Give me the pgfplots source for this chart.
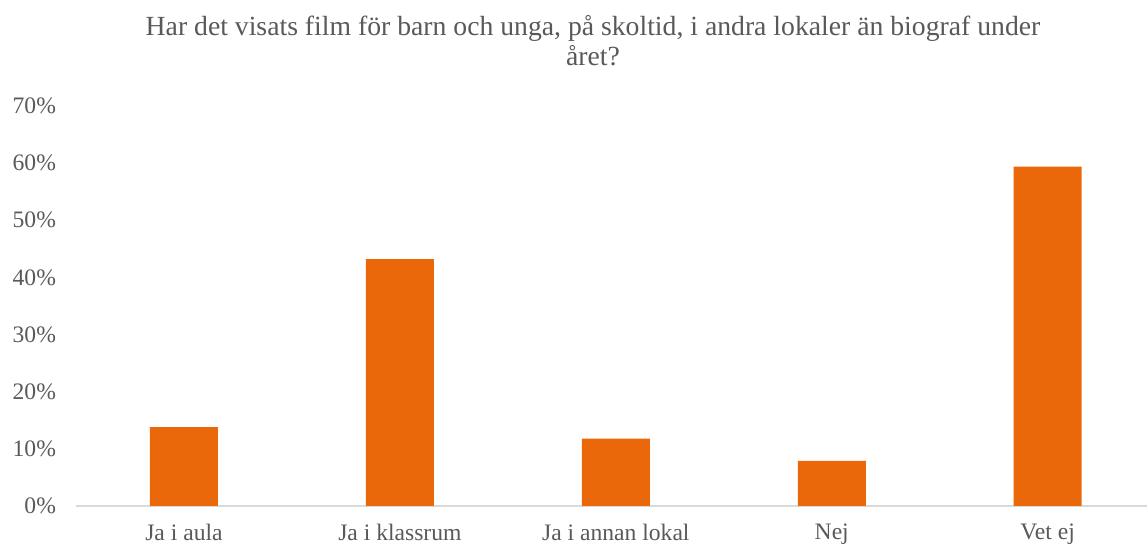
\documentclass[border=0pt]{standalone}
\usepackage{pgfplots}
\pgfplotsset{compat=1.18}
\usepackage{fontspec}
\setmainfont{Liberation Serif}
\definecolor{barorange}{HTML}{EB680A}
\definecolor{txtgray}{HTML}{595959}
\definecolor{axgray}{HTML}{D9D9D9}

\begin{document}
\begin{tikzpicture}
% page = 1147 x 545 px at 0.5pt/px, origin at the plot's lower left corner
\useasboundingbox (-38pt,-19.5pt) rectangle (535.5pt,253pt);
\begin{axis}[
    at={(0,0)}, anchor=south west,
    scale only axis,
    width=535.5pt, height=200pt,
    xmin=-0.5, xmax=4.46,
    ymin=0, ymax=70,
    ytick={0,10,...,70},
    yticklabel={\pgfmathprintnumber{\tick}\%},
    xtick=data,
    xticklabels={Ja i aula, Ja i klassrum, Ja i annan lokal, Nej, Vet ej},
    axis x line=bottom, axis y line=left,
    x axis line style={-, draw=axgray, line width=1pt},
    y axis line style={draw=none},
    major tick length=0pt,
    tick style={draw=none},
    ticklabel style={font=\fontsize{11.8}{13}\selectfont, text=txtgray},
    yticklabel style={xshift=-6.5pt},
    xticklabel style={yshift=-5.5pt},
    /pgf/number format/assume math mode=true,
    ybar, bar width=34pt,
    clip=false,
]
\addplot[fill=barorange, draw=none] coordinates {
    (0,13.8) (1,43.2) (2,11.8) (3,7.9) (4,59.4)
};
\end{axis}
\node[align=center, text=txtgray, font=\fontsize{13.85}{15}\selectfont]
    at (258.5pt,232.7pt)
    {Har det visats film för barn och unga, på skoltid, i andra lokaler än biograf under\\året?};
\end{tikzpicture}
\end{document}
